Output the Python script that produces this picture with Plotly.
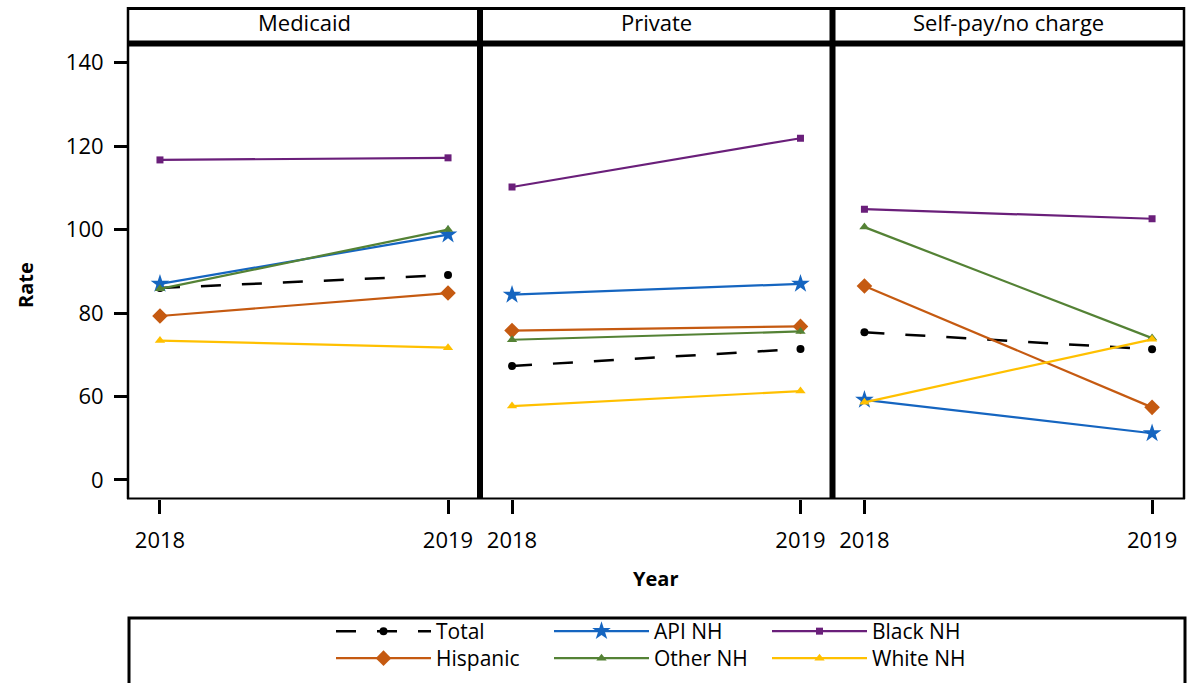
import plotly.graph_objects as go

# ---------------- data ----------------
years = [2018, 2019]
panels = ["Medicaid", "Private", "Self-pay/no charge"]
year_tick_labels = ["2018", "2019"]
rate_tick_vals = [40, 60, 80, 100, 120, 140]      # 40 position shown as broken-axis "0"
rate_tick_text = ["0", "60", "80", "100", "120", "140"]

# values per panel: [Medicaid, Private, Self-pay/no charge], each [2018, 2019]
total_rates    = [[86.0, 89.1], [67.3, 71.4], [75.4, 71.3]]
api_nh_rates   = [[87.0, 98.8], [84.4, 87.0], [59.2, 51.2]]
black_nh_rates = [[116.7, 117.2], [110.2, 121.9], [104.9, 102.6]]
hispanic_rates = [[79.3, 84.8], [75.8, 76.8], [86.5, 57.4]]
other_nh_rates = [[85.8, 100.0], [73.6, 75.6], [100.6, 74.0]]
white_nh_rates = [[73.4, 71.7], [57.7, 61.3], [58.6, 73.7]]

series = [
    ("Total", total_rates, "#000000", "circle", 8, "dash", "legend"),
    ("API NH", api_nh_rates, "#1565C0", "star", 14, "solid", "legend"),
    ("Black NH", black_nh_rates, "#6A1F7A", "square", 7, "solid", "legend"),
    ("Hispanic", hispanic_rates, "#C55A11", "diamond", 12, "solid", "legend2"),
    ("Other NH", other_nh_rates, "#548235", "triangle-up", 9, "solid", "legend2"),
    ("White NH", white_nh_rates, "#FFC000", "triangle-up", 9, "solid", "legend2"),
]

# ---------------- layout helpers ----------------
W, H = 1187, 683
ML, MR, MT, MB = 128, 3, 46, 184
PW, PH = W - ML - MR, H - MT - MB


def px_x(px):
    return (px - ML) / PW


def px_y(py):
    return (H - MB - py) / PH


FONT = "Open Sans"
domains = [[0.0, px_x(480)], [px_x(480), px_x(832.5)], [px_x(832.5), 1.0]]

fig = go.Figure()

for name, vals, color, symbol, msize, dash, leg in series:
    for i in range(len(panels)):
        suffix = "" if i == 0 else str(i + 1)
        fig.add_trace(go.Scatter(
            x=years, y=vals[i],
            mode="lines+markers",
            name=name,
            legend=leg,
            legendgroup=name,
            showlegend=(i == 0),
            line=dict(color=color, width=2.5 if dash == "dash" else 2.2,
                      dash="20px,21px" if dash == "dash" else "solid"),
            marker=dict(symbol=symbol, size=msize, color=color),
            xaxis="x" + suffix, yaxis="y" + suffix,
        ))

layout = dict(
    width=W, height=H,
    margin=dict(l=ML, r=MR, t=MT, b=MB),
    paper_bgcolor="white", plot_bgcolor="white",
    font=dict(family=FONT, color="black", size=20),
)

for i in range(len(panels)):
    suffix = "" if i == 0 else str(i + 1)
    layout["xaxis" + suffix] = dict(
        domain=domains[i], range=[2017.889, 2019.111],
        tickvals=years, ticktext=year_tick_labels,
        ticks="outside", ticklen=14, tickwidth=3, tickcolor="black",
        ticklabelstandoff=8,
        showline=False, showgrid=False, zeroline=False, automargin=False,
        tickfont=dict(family=FONT, size=22, color="black"),
        anchor="y" + suffix, fixedrange=True,
    )
    layout["yaxis" + suffix] = dict(
        range=[35.44, 144.0],
        tickvals=rate_tick_vals, ticktext=rate_tick_text,
        ticks="outside" if i == 0 else "", ticklen=13, tickwidth=3, tickcolor="black",
        ticklabelstandoff=6,
        showticklabels=(i == 0),
        showline=False, showgrid=False, zeroline=False, automargin=False,
        tickfont=dict(family=FONT, size=22, color="black"),
        anchor="x" + suffix, fixedrange=True,
    )

layout["legend"] = dict(
    orientation="h", x=px_x(331), xanchor="left", y=px_y(652), yanchor="bottom",
    itemwidth=95, entrywidth=108, font=dict(family=FONT, size=21, color="black"),
    bgcolor="rgba(0,0,0,0)", borderwidth=0, traceorder="normal",
)
layout["legend2"] = dict(
    orientation="h", x=px_x(331), xanchor="left", y=px_y(679), yanchor="bottom",
    itemwidth=95, entrywidth=108, font=dict(family=FONT, size=21, color="black"),
    bgcolor="rgba(0,0,0,0)", borderwidth=0, traceorder="normal",
)

shapes = []


def vline(px, y0, y1, w):
    shapes.append(dict(type="line", xref="paper", yref="paper",
                       x0=px_x(px), x1=px_x(px), y0=px_y(y0), y1=px_y(y1),
                       line=dict(color="black", width=w)))


def hline(py, x0, x1, w):
    shapes.append(dict(type="line", xref="paper", yref="paper",
                       x0=px_x(x0), x1=px_x(x1), y0=px_y(py), y1=px_y(py),
                       line=dict(color="black", width=w)))


# panel frames and strips
vline(128, 7, 499, 2.5)
vline(1184, 7, 499, 2.5)
vline(480, 7, 499, 6)
vline(832.5, 7, 499, 6)
hline(8.5, 127, 1185, 3)
hline(43.5, 127, 1185, 6)
hline(498.5, 127, 1185, 2)

# legend box
shapes.append(dict(type="rect", xref="paper", yref="paper",
                   x0=px_x(129), x1=px_x(1185), y0=px_y(618), y1=px_y(700),
                   line=dict(color="black", width=3), fillcolor="rgba(0,0,0,0)"))

layout["shapes"] = shapes

annotations = []
centers = [(128 + 480) / 2, (480 + 832.5) / 2, (832.5 + 1184) / 2]
for i, p in enumerate(panels):
    annotations.append(dict(text=p, xref="paper", yref="paper",
                            x=px_x(centers[i]), y=px_y(21.5), xanchor="center", yanchor="middle",
                            showarrow=False, font=dict(family=FONT, size=22, color="black")))
annotations.append(dict(text="<b>Rate</b>", xref="paper", yref="paper",
                        x=px_x(25), y=px_y(285), xanchor="center", yanchor="middle",
                        textangle=-90, showarrow=False,
                        font=dict(family=FONT, size=20, color="black")))
annotations.append(dict(text="<b>Year</b>", xref="paper", yref="paper",
                        x=px_x(655), y=px_y(578), xanchor="center", yanchor="middle",
                        showarrow=False, font=dict(family=FONT, size=20, color="black")))
layout["annotations"] = annotations

fig.update_layout(**layout)
fig.write_html(
    "out.html",
    config={"displayModeBar": False},
    post_script="document.body.style.margin='0';document.body.style.padding='0';document.body.style.overflow='hidden';",
)
